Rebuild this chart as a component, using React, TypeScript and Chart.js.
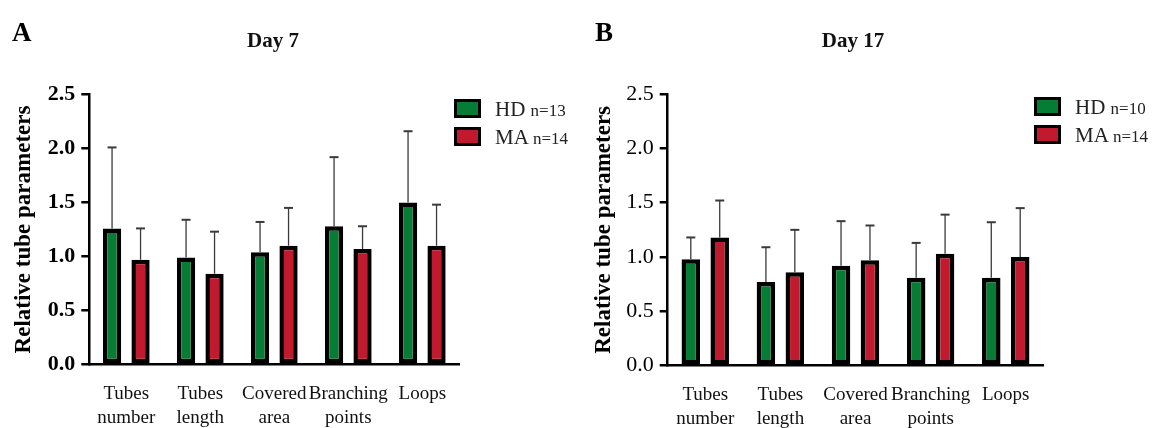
import React, { useEffect, useRef } from "react";
import { Chart, registerables } from "chart.js";

Chart.register(...registerables);

// ---------- data ----------
const categories: string[][] = [
  ["Tubes", "number"],
  ["Tubes", "length"],
  ["Covered", "area"],
  ["Branching", "points"],
  ["Loops"],
];
const yTickValues = [0, 0.5, 1.0, 1.5, 2.0, 2.5];
const seriesNames = ["HD", "MA"];

// Day 7
const day7HD = [1.26, 0.99, 1.04, 1.28, 1.5];
const day7HDErr = [0.75, 0.35, 0.28, 0.64, 0.66];
const day7MA = [0.97, 0.84, 1.1, 1.07, 1.1];
const day7MAErr = [0.29, 0.39, 0.35, 0.21, 0.38];
const day7N = ["n=13", "n=14"];

// Day 17
const day17HD = [0.98, 0.77, 0.92, 0.81, 0.81];
const day17HDErr = [0.2, 0.32, 0.41, 0.32, 0.51];
const day17MA = [1.18, 0.86, 0.97, 1.03, 1.0];
const day17MAErr = [0.34, 0.39, 0.32, 0.36, 0.45];
const day17N = ["n=10", "n=14"];

const GREEN = "#067c35";
const RED = "#c1192d";
const FAMILY = "'Liberation Serif', 'DejaVu Serif', serif";

const errorBarPlugin = {
  id: "errorBars",
  afterDatasetsDraw(chart: any) {
    const ctx = chart.ctx;
    const yScale = chart.scales.y;
    chart.data.datasets.forEach((ds: any, i: number) => {
      const meta = chart.getDatasetMeta(i);
      const errs: number[] = ds.errors || [];
      meta.data.forEach((bar: any, j: number) => {
        const v = ds.data[j] as number;
        const top = yScale.getPixelForValue(v + errs[j]);
        ctx.save();
        ctx.strokeStyle = "#3a3a3a";
        ctx.lineWidth = 1.3;
        ctx.beginPath();
        ctx.moveTo(bar.x, bar.y);
        ctx.lineTo(bar.x, top);
        ctx.stroke();
        ctx.lineWidth = 2;
        ctx.beginPath();
        ctx.moveTo(bar.x - 4.5, top);
        ctx.lineTo(bar.x + 4.5, top);
        ctx.stroke();
        ctx.restore();
      });
    });
  },
};

type PanelCfg = {
  left: number;
  width: number;
  letter: string;
  letterLeft: number;
  title: string;
  titleCenter: number;
  hd: number[];
  hdErr: number[];
  ma: number[];
  maErr: number[];
  nLabels: string[];
  yWidth: number;
  top: number;
  xHeight: number;
  padRight: number;
  tickWeight: string;
  legendLeft: number;
  legendTop: number;
  legendTextLeft: number;
};

function Panel({ cfg }: { cfg: PanelCfg }) {
  const ref = useRef<HTMLCanvasElement | null>(null);
  useEffect(() => {
    if (!ref.current) return;
    const chart = new Chart(ref.current, {
      type: "bar",
      data: {
        labels: categories,
        datasets: [
          {
            label: seriesNames[0],
            data: cfg.hd,
            errors: cfg.hdErr,
            backgroundColor: GREEN,
            borderColor: "#000",
            borderWidth: 4.5,
            borderSkipped: false,
            categoryPercentage: 0.77,
            barPercentage: 0.64,
          } as any,
          {
            label: seriesNames[1],
            data: cfg.ma,
            errors: cfg.maErr,
            backgroundColor: RED,
            borderColor: "#000",
            borderWidth: 4.5,
            borderSkipped: false,
            categoryPercentage: 0.77,
            barPercentage: 0.64,
          } as any,
        ],
      },
      options: {
        animation: false,
        responsive: false,
        devicePixelRatio: 1,
        layout: { padding: { top: cfg.top, right: cfg.padRight, bottom: 0, left: 0 } },
        plugins: {
          legend: { display: false },
          tooltip: { enabled: false },
          title: { display: false },
        },
        scales: {
          x: {
            type: "category",
            offset: true,
            grid: { display: false },
            border: { display: true, color: "#000", width: 2.5 },
            ticks: {
              color: "#111",
              font: { family: FAMILY, size: 19, lineHeight: 24 / 19 },
              padding: 9.5,
              autoSkip: false,
              maxRotation: 0,
              minRotation: 0,
            },
            afterFit: (s: any) => {
              s.height = cfg.xHeight;
            },
          },
          y: {
            min: 0,
            max: 2.5,
            afterBuildTicks: (s: any) => {
              s.ticks = yTickValues.map((v) => ({ value: v }));
            },
            grid: {
              display: true,
              drawOnChartArea: false,
              drawTicks: true,
              tickLength: 8,
              color: "#000",
              lineWidth: 2.5,
            },
            border: { display: true, color: "#000", width: 2.5 },
            ticks: {
              callback: (v: any) => Number(v).toFixed(1),
              color: "#000",
              font: { family: FAMILY, size: 22, weight: cfg.tickWeight as any },
              padding: 6,
            },
            title: {
              display: true,
              text: "Relative tube parameters",
              color: "#000",
              font: { family: FAMILY, size: 23, weight: "bold" },
              padding: { top: 10.5, bottom: 0 },
            },
            afterFit: (s: any) => {
              s.width = cfg.yWidth;
            },
          },
        },
      } as any,
      plugins: [errorBarPlugin],
    });
    return () => chart.destroy();
  }, [cfg]);

  const legendRow = (i: number) => (
    <div
      key={i}
      style={{
        position: "absolute",
        left: cfg.legendLeft,
        top: cfg.legendTop + i * 27.8,
        width: 480,
        height: 20,
      }}
    >
      <div
        style={{
          position: "absolute",
          left: 0,
          top: 0,
          width: 27,
          height: 19,
          boxSizing: "border-box",
          border: "3.5px solid #000",
          background: i === 0 ? GREEN : RED,
        }}
      />
      <div
        style={{
          position: "absolute",
          left: cfg.legendTextLeft - cfg.legendLeft,
          top: 0,
          fontFamily: FAMILY,
          fontSize: 21,
          lineHeight: "21px",
          color: "#222",
          whiteSpace: "nowrap",
        }}
      >
        {seriesNames[i]} <span style={{ fontSize: 17 }}>{cfg.nLabels[i]}</span>
      </div>
    </div>
  );

  return (
    <div
      style={{
        position: "absolute",
        left: cfg.left,
        top: 0,
        width: cfg.width,
        height: 428,
      }}
    >
      <canvas ref={ref} width={cfg.width} height={428} style={{ display: "block" }} />
      <div
        style={{
          position: "absolute",
          left: cfg.letterLeft,
          top: 18.5,
          fontFamily: FAMILY,
          fontWeight: "bold",
          fontSize: 27,
          lineHeight: "27px",
          color: "#000",
        }}
      >
        {cfg.letter}
      </div>
      <div
        style={{
          position: "absolute",
          left: cfg.titleCenter,
          top: 29.5,
          transform: "translateX(-50%)",
          fontFamily: FAMILY,
          fontWeight: "bold",
          fontSize: 21,
          lineHeight: "21px",
          color: "#111",
          whiteSpace: "nowrap",
        }}
      >
        {cfg.title}
      </div>
      {legendRow(0)}
      {legendRow(1)}
    </div>
  );
}

const panelA: PanelCfg = {
  left: 0,
  width: 580,
  letter: "A",
  letterLeft: 12,
  title: "Day 7",
  titleCenter: 273,
  hd: day7HD,
  hdErr: day7HDErr,
  ma: day7MA,
  maErr: day7MAErr,
  nLabels: day7N,
  yWidth: 89.3,
  top: 94.5,
  xHeight: 428 - 364.5,
  padRight: 580 - 459.3,
  tickWeight: "bold",
  legendLeft: 454.3,
  legendTop: 99,
  legendTextLeft: 495,
};

const panelB: PanelCfg = {
  left: 580,
  width: 573,
  letter: "B",
  letterLeft: 15,
  title: "Day 17",
  titleCenter: 273,
  hd: day17HD,
  hdErr: day17HDErr,
  ma: day17MA,
  maErr: day17MAErr,
  nLabels: day17N,
  yWidth: 87.7,
  top: 94,
  xHeight: 428 - 365.7,
  padRight: 573 - 463.3,
  tickWeight: "normal",
  legendLeft: 1034.3 - 580,
  legendTop: 96.7,
  legendTextLeft: 1075 - 580,
};

export default function App() {
  return (
    <div
      style={{
        position: "absolute",
        left: 0,
        top: 0,
        width: 1153,
        height: 428,
        background: "#fff",
        overflow: "hidden",
      }}
    >
      <Panel cfg={panelA} />
      <Panel cfg={panelB} />
    </div>
  );
}
